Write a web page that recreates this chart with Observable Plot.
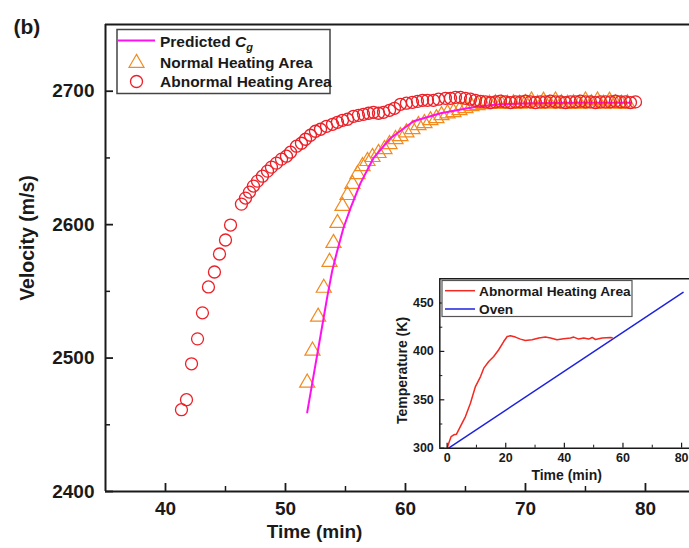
<!DOCTYPE html>
<html><head><meta charset="utf-8">
<script src="https://cdn.jsdelivr.net/npm/d3@7"></script>
<script src="https://cdn.jsdelivr.net/npm/@observablehq/plot@0.6"></script>
<style>
html,body{margin:0;padding:0;background:#fff;}
#wrap{position:relative;width:689px;height:548px;overflow:hidden;background:#fff;}
#wrap > svg{position:absolute;}
</style></head><body><div id="wrap"></div>
<script>
// ---- Main chart data ----
const abnormalT = [41.33,41.75,42.17,42.67,43.08,43.58,44.08,44.5,45.0,45.42,46.33,46.67,47.0,47.33,47.67,48.08,48.5,48.83,49.25,49.67,50.08,50.42,50.92,51.33,51.67,52.08,52.5,52.92,53.42,53.92,54.33,54.75,55.17,55.67,56.08,56.5,56.92,57.33,57.75,58.17,58.67,59.08,59.58,60.08,60.58,61.0,61.42,61.83,62.33,62.75,63.33,63.75,64.17,64.58,65.0,65.42,65.83,66.25,66.67,67.08,67.5,67.92,68.33,68.75,69.17,69.58,70.0,70.42,70.83,71.25,71.67,72.08,72.5,72.92,73.33,73.75,74.17,74.58,75.0,75.42,75.83,76.25,76.67,77.08,77.5,77.92,78.33,78.75,79.17];
const abnormalV = [2461.3,2468.8,2495.7,2514.4,2533.9,2553.3,2564.5,2578.0,2588.5,2599.7,2615.4,2619.9,2624.4,2628.9,2632.6,2636.3,2640.1,2643.1,2646.1,2649.1,2651.3,2654.3,2658.8,2661.0,2664.0,2667.0,2670.0,2671.5,2673.7,2675.2,2676.7,2678.2,2679.0,2681.2,2681.9,2682.7,2683.5,2684.2,2683.5,2684.2,2685.7,2687.2,2690.2,2691.0,2691.7,2692.4,2693.2,2693.2,2693.2,2694.0,2694.7,2694.7,2695.4,2695.4,2694.7,2694.0,2693.2,2692.4,2692,2691.5,2692,2692.5,2692,2691.5,2692,2692,2692.5,2692,2691.5,2692,2692,2692.5,2692,2692,2691.5,2692,2692,2692.5,2692,2692,2691.5,2692,2692,2692,2692.5,2692,2692,2691.5,2692];

const normalT = [51.81,52.25,52.72,53.19,53.67,54.0,54.33,54.75,55.17,55.58,56.0,56.42,56.83,57.25,57.75,58.25,58.67,59.17,59.58,60.08,60.58,61.08,61.58,62.08,62.58,63.0,63.5,64.0,64.5,65.0,65.5,66.0,66.5,67.0,67.5,68.0,68.5,69.0,69.5,70.0,70.5,71.0,71.5,72.0,72.5,73.0,73.5,74.0,74.5,75.0,75.5,76.0,76.5,77.0,77.5,78.0,78.5];
const normalV = [2481.5,2505.5,2530.9,2552.6,2572.0,2586.2,2601.2,2613.9,2622.1,2630.4,2637.8,2643.8,2647.6,2650.6,2653.6,2656.5,2660.3,2664.0,2666.3,2669.1,2671.5,2674.5,2676.0,2678.2,2679.7,2681.9,2683.3,2684.2,2685.7,2687.2,2688.7,2689.5,2690.2,2690.5,2690.8,2690.5,2690.5,2690.8,2690.5,2691,2693,2690.5,2692.8,2690.5,2693,2690.8,2690.5,2690.8,2690.5,2693,2690.8,2693,2690.5,2692.8,2690.8,2690.5,2690.8];

const predT = [51.81,52.36,52.92,53.47,53.89,54.31,54.83,55.42,56.25,57.33,58.75,60.67,62.92,65.17,66.25,67.92,70.42,74.58,78.75];
const predV = [2459.3,2488.0,2516.7,2545.3,2565.3,2580.3,2597.5,2612.4,2631.1,2649.8,2664.8,2677.5,2683.5,2687.2,2688.7,2690.2,2691.0,2691.3,2691.3];

const mainXMajor = [40,50,60,70,80];
const mainXMinor = [45,55,65,75];
const mainYMajor = [2400,2500,2600,2700];
const mainYMinor = [2450,2550,2650];

// ---- Inset data ----
const abnTempT = [0,0.55,1.37,2.27,3.2,4.5,6.25,7.95,9.66,11.4,12.5,14.2,15.9,17.6,19.3,20.5,21.6,23.3,25.0,26.7,29.0,31.3,33.5,35.3,37.5,39.8,42.1,43.2,44.9,46.6,48.3,49.5,50.6,52.9,55.7,56.3];
const abnTempK = [300,305.2,312,313.8,314.5,322.3,332.7,346.5,363.7,374,382.7,389.6,394.7,401.7,410.2,415.4,416.1,414.8,412.7,411.3,412,413.8,414.8,413.8,412,413,413.8,414.8,412.7,413.8,412.7,414.4,412.3,413.8,414.4,414];
const ovenT = [0.5,80.5];
const ovenK = [300,461];

const insetXMajor = [0,20,40,60,80];
const insetXMinor = [10,30,50,70];
const insetYMajor = [300,350,400,450];
const insetYMinor = [325,375,425];

const FONT = "'Liberation Sans', Arial, Helvetica, sans-serif";
const RED = "#ec2028", ORANGE = "#f28a1e", MAGENTA = "#ff10f0";
const INK = "#1a1a1a";

const abnormal = abnormalT.map((t,i)=>({t, v: abnormalV[i]}));
const normal = normalT.map((t,i)=>({t, v: normalV[i]}));
const pred = predT.map((t,i)=>({t, v: predV[i]}));
const abnTemp = abnTempT.map((t,i)=>({t, k: abnTempK[i]}));
const oven = ovenT.map((t,i)=>({t, k: ovenK[i]}));

const wrap = document.getElementById("wrap");
const fmt = d => String(d);

// main frame: left 105, top 24, bottom 491, right 689
const mW = 689, mH = 548, mL = 105, mT = 24, mB = 57;
const frameH = mH - mT - mB, frameW = mW - mL;

const main = Plot.plot({
  width: mW, height: mH,
  marginLeft: mL, marginTop: mT, marginBottom: mB, marginRight: 0,
  x: {domain: [35, 83.67]},
  y: {domain: [2400, 2750]},
  style: {fontFamily: FONT, background: "transparent", color: INK},
  marks: [
    Plot.dot(normal, {x: "t", y: "v", symbol: "triangle", r: 5.6, stroke: ORANGE, strokeWidth: 1.2, fill: "none"}),
    Plot.line(pred, {x: "t", y: "v", stroke: MAGENTA, strokeWidth: 2}),
    Plot.dot(abnormal, {x: "t", y: "v", r: 6, stroke: RED, strokeWidth: 1.3, fill: "none"}),
    Plot.ruleX(mainXMajor, {insetTop: frameH - 8, stroke: INK, strokeWidth: 1.8}),
    Plot.ruleX(mainXMinor, {insetTop: frameH - 5, stroke: INK, strokeWidth: 1.5}),
    Plot.ruleY(mainYMajor, {insetRight: frameW - 8, stroke: INK, strokeWidth: 1.8}),
    Plot.ruleY(mainYMinor, {insetRight: frameW - 5, stroke: INK, strokeWidth: 1.5}),
    Plot.ruleX([35], {stroke: INK, strokeWidth: 2}),
    Plot.ruleY([2400, 2750], {stroke: INK, strokeWidth: 2}),
    Plot.axisX({ticks: mainXMajor, tickFormat: fmt, tickSize: 0, tickPadding: 10, fontSize: 19, fontWeight: "bold", label: null, fill: INK}),
    Plot.axisY({ticks: mainYMajor, tickFormat: fmt, tickSize: 0, tickPadding: 11, fontSize: 19, fontWeight: "bold", label: null, fill: INK}),
    Plot.text(["Velocity (m/s)"], {frameAnchor: "left", textAnchor: "middle", lineAnchor: "middle", dx: -78, dy: -20, rotate: -90, fontSize: 19.5, fontWeight: "bold", fill: INK}),
    Plot.text(["Time (min)"], {frameAnchor: "bottom-left", textAnchor: "middle", dx: 209, dy: 46, lineAnchor: "bottom", fontSize: 19, fontWeight: "bold", fill: INK}),
    Plot.text(["(b)"], {frameAnchor: "top-left", dx: -92, dy: 9, lineAnchor: "bottom", textAnchor: "start", fontSize: 21, fontWeight: "bold", fill: INK})
  ]
});
main.style.left = "0px"; main.style.top = "0px";
wrap.appendChild(main);

// inset: frame left 439.3, top 278.3, bottom 447.7
const iLeft = 385, iTop = 270, iW = 304, iH = 215;
const iML = 54.3, iMT = 8.3, iMB = 37.3;
const iFH = iH - iMT - iMB, iFW = iW - iML;
const inset = Plot.plot({
  width: iW, height: iH,
  marginLeft: iML, marginTop: iMT, marginBottom: iMB, marginRight: 0,
  x: {domain: [-2.5, 82.7]},
  y: {domain: [300, 475]},
  style: {fontFamily: FONT, background: "transparent", color: INK},
  marks: [
    Plot.line(oven, {x: "t", y: "k", stroke: "#1d22e0", strokeWidth: 1.5}),
    Plot.line(abnTemp, {x: "t", y: "k", stroke: "#f22a22", strokeWidth: 1.5}),
    Plot.ruleX(insetXMajor, {insetTop: iFH - 5, stroke: INK, strokeWidth: 1.2}),
    Plot.ruleX(insetXMinor, {insetTop: iFH - 3, stroke: INK, strokeWidth: 1}),
    Plot.ruleY(insetYMajor, {insetRight: iFW - 5, stroke: INK, strokeWidth: 1.2}),
    Plot.ruleY(insetYMinor, {insetRight: iFW - 3, stroke: INK, strokeWidth: 1}),
    Plot.ruleX([-2.5], {stroke: INK, strokeWidth: 1.5}),
    Plot.ruleY([300, 475], {stroke: INK, strokeWidth: 1.5}),
    Plot.axisX({ticks: insetXMajor, tickFormat: fmt, tickSize: 0, tickPadding: 4.5, fontSize: 12.5, fontWeight: "bold", label: null, fill: INK}),
    Plot.axisY({ticks: insetYMajor, tickFormat: fmt, tickSize: 0, tickPadding: 6, fontSize: 12.5, fontWeight: "bold", label: null, fill: INK}),
    Plot.text(["Temperature (K)"], {frameAnchor: "left", textAnchor: "middle", lineAnchor: "middle", dx: -37.6, dy: 7, rotate: -90, fontSize: 14, fontWeight: "bold", fill: INK}),
    Plot.text(["Time (min)"], {frameAnchor: "bottom", textAnchor: "middle", dx: 2, dy: 32, lineAnchor: "bottom", fontSize: 14, fontWeight: "bold", fill: INK})
  ]
});
inset.style.left = iLeft + "px"; inset.style.top = iTop + "px";
wrap.appendChild(inset);

// legends overlay
const ov = d3.select(wrap).append("svg")
  .attr("width", mW).attr("height", mH)
  .style("left", "0px").style("top", "0px")
  .attr("font-family", FONT).attr("font-weight", "bold").attr("fill", INK);

// main legend
const lg = ov.append("g");
lg.append("rect").attr("x", 117).attr("y", 29.5).attr("width", 213).attr("height", 64)
  .attr("fill", "#fff").attr("stroke", "#444").attr("stroke-width", 1.5);
lg.append("line").attr("x1", 118).attr("x2", 155).attr("y1", 40.5).attr("y2", 40.5)
  .attr("stroke", MAGENTA).attr("stroke-width", 2);
lg.append("path").attr("d", d3.symbol(d3.symbolTriangle, 97)()).attr("transform", "translate(136.5,63)")
  .attr("fill", "none").attr("stroke", ORANGE).attr("stroke-width", 1.2);
lg.append("circle").attr("cx", 136.5).attr("cy", 81.5).attr("r", 6)
  .attr("fill", "none").attr("stroke", RED).attr("stroke-width", 1.3);
const t1 = lg.append("text").attr("x", 160).attr("y", 47).attr("font-size", 15.5);
t1.append("tspan").text("Predicted ");
t1.append("tspan").attr("font-style", "italic").text("C");
t1.append("tspan").attr("font-style", "italic").attr("font-size", 11).attr("dy", 4).text("g");
lg.append("text").attr("x", 160).attr("y", 68).attr("font-size", 15.5).text("Normal Heating Area");
lg.append("text").attr("x", 160).attr("y", 87).attr("font-size", 15.5).text("Abnormal Heating Area");

// inset legend
const il = ov.append("g");
il.append("rect").attr("x", 442).attr("y", 280.5).attr("width", 190).attr("height", 36)
  .attr("fill", "#fff").attr("stroke", "#555").attr("stroke-width", 1.2);
il.append("line").attr("x1", 445).attr("x2", 475).attr("y1", 290.7).attr("y2", 290.7)
  .attr("stroke", "#f22a22").attr("stroke-width", 1.5);
il.append("line").attr("x1", 445).attr("x2", 475).attr("y1", 309).attr("y2", 309)
  .attr("stroke", "#1d22e0").attr("stroke-width", 1.5);
il.append("text").attr("x", 479).attr("y", 295.5).attr("font-size", 13.7).text("Abnormal Heating Area");
il.append("text").attr("x", 479).attr("y", 314).attr("font-size", 13.7).text("Oven");
</script>
</body></html>
